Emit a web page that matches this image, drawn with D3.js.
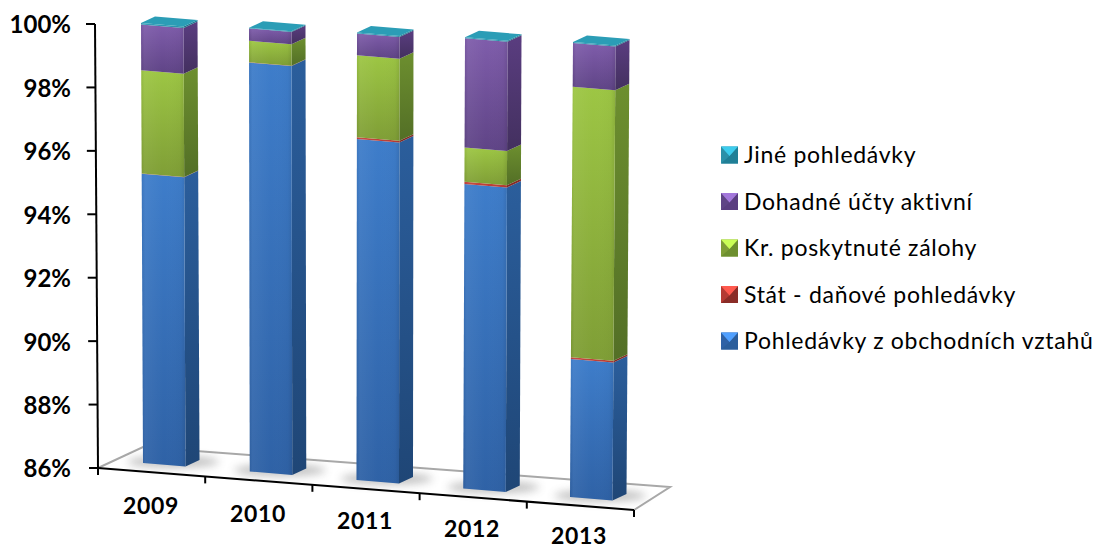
<!DOCTYPE html>
<html lang="cs">
<head>
<meta charset="utf-8">
<title>Struktura pohledávek</title>
<script src="https://cdn.jsdelivr.net/npm/d3@7"></script>
<style>
  html, body { margin: 0; padding: 0; background: #fff; }
  svg { display: block; }
  text { font-family: Lato, "Open Sans", sans-serif; fill: #000; }
</style>
</head>
<body>
<svg id="chart" width="1096" height="549"></svg>
<script>
// Share of each receivable type per year, in percent
const years = ["2009", "2010", "2011", "2012", "2013"];
const tradeReceivables = [95.20, 98.90, 96.67, 95.45, 90.25];
const taxReceivables = [0.01, 0.01, 0.05, 0.07, 0.05];
const shortTermAdvances = [3.29, 0.68, 2.57, 1.06, 8.32];
const accruedAssets = [1.45, 0.39, 0.68, 3.39, 1.35];
const otherReceivables = [0.05, 0.02, 0.03, 0.03, 0.03];

const seriesKeys = ["trade", "tax", "advance", "accrued", "other"];
const seriesNames = [
  "Pohledávky z obchodních vztahů",
  "Stát - daňové pohledávky",
  "Kr. poskytnuté zálohy",
  "Dohadné účty aktivní",
  "Jiné pohledávky"
];
const seriesValues = [tradeReceivables, taxReceivables, shortTermAdvances, accruedAssets, otherReceivables];
const frontColors = [["#3e7dca", "#2f62a6"], ["#c8453d", "#b53a33"], ["#9dc644", "#7f9e36"], ["#7f5dab", "#5f4486"], ["#2f9fb9", "#2a90a8"]];
const sideColors = [["#2b5e9c", "#1f4676"], ["#8a2c27", "#7e2823"], ["#6d8f2f", "#536f26"], ["#5a3d80", "#43305f"], ["#1f7f96", "#1b7086"]];
const topColor = "#2b9db6";
const yTicks = [86, 88, 90, 92, 94, 96, 98, 100];

const svg = d3.select("#chart");
const defs = svg.append("defs");

function verticalGradient(id, [c0, c1]) {
  const g = defs.append("linearGradient").attr("id", id)
    .attr("x1", 0).attr("y1", 0).attr("x2", 0).attr("y2", 1);
  g.append("stop").attr("offset", 0).attr("stop-color", c0);
  g.append("stop").attr("offset", 1).attr("stop-color", c1);
}
seriesKeys.forEach((k, i) => {
  verticalGradient("front-" + k, frontColors[i]);
  verticalGradient("side-" + k, sideColors[i]);
});

// Subtle horizontal sheen across the front faces
const sheen = defs.append("linearGradient").attr("id", "sheen");
[[0, "#000", 0.06], [0.08, "#fff", 0.05], [0.5, "#fff", 0], [0.9, "#000", 0.02], [1, "#000", 0.10]].forEach(([o, c, a]) => {
  sheen.append("stop").attr("offset", o).attr("stop-color", c).attr("stop-opacity", a);
});
defs.append("filter").attr("id", "soft")
  .attr("x", "-30%").attr("y", "-150%").attr("width", "160%").attr("height", "400%")
  .append("feGaussianBlur").attr("stdDeviation", 4);

// Stack the shares; the value axis is truncated to 86–100 %
const table = years.map((y, i) => {
  const row = { year: y };
  seriesKeys.forEach((k, s) => { row[k] = seriesValues[s][i]; });
  return row;
});
const stacked = d3.stack().keys(seriesKeys)(table);

// The oblique view shifts each bar's front face along the floor
const slot = d3.scalePoint().domain(years).range([0, 1]);
const baseLeftX = d3.scaleLinear().domain([0, 1]).range([143, 570]);
const topLeftX = d3.scaleLinear().domain([0, 1]).range([141, 573]);
const baseY = d3.scaleLinear().domain([0, 1]).range([463, 497]);
const topY = d3.scaleLinear().domain([0, 1]).range([23, 42]);
const barWidth = 42.5, depthX = 14, depthY = -6.5, faceSlope = 3.5;

const barY = year => d3.scaleLinear().domain([86, 100]).range([baseY(slot(year)), topY(slot(year))]);
const barX = year => d3.scaleLinear().domain([86, 100]).range([baseLeftX(slot(year)), topLeftX(slot(year))]);
const clampValue = v => Math.max(86, v);

const poly = pts => pts.map(p => p.join(",")).join(" ");
function corners(year, v) {
  const x = barX(year)(v), y = barY(year)(v);
  return {
    fl: [x, y],
    fr: [x + barWidth, y + faceSlope],
    br: [x + barWidth + depthX, y + faceSlope + depthY],
    bl: [x + depthX, y + depthY]
  };
}

// Floor of the plot
const floor = { left: [98, 468], back: [143, 447], far: [670, 487], right: [634, 510] };
svg.append("polyline")
  .attr("points", poly([floor.left, floor.back, floor.far, floor.right]))
  .attr("fill", "none").attr("stroke", "#a8a8a8").attr("stroke-width", 2);

// Soft contact shadows around the bar feet
const shadows = svg.append("g");
years.forEach(y => {
  const c = corners(y, 86);
  shadows.append("ellipse")
    .attr("cx", (c.fl[0] + c.br[0]) / 2 + 2)
    .attr("cy", (c.fl[1] + c.fr[1]) / 2 - 3)
    .attr("rx", 46).attr("ry", 6)
    .attr("fill", "#777").attr("opacity", 0.45)
    .attr("filter", "url(#soft)");
});

// Bars, one stacked column per year
const bars = svg.append("g");
stacked.forEach(layer => {
  const key = layer.key;
  layer.forEach((d, i) => {
    const year = years[i];
    const a = corners(year, clampValue(d[0]));
    const b = corners(year, clampValue(d[1]));
    bars.append("polygon").attr("points", poly([a.fr, a.br, b.br, b.fr]))
      .attr("fill", `url(#side-${key})`);
    bars.append("polygon").attr("points", poly([a.fl, a.fr, b.fr, b.fl]))
      .attr("fill", `url(#front-${key})`);
    bars.append("polygon").attr("points", poly([a.fl, a.fr, b.fr, b.fl]))
      .attr("fill", "url(#sheen)");
  });
});
years.forEach(y => {
  const t = corners(y, 100);
  bars.append("polygon").attr("points", poly([t.fl, t.fr, t.br, t.bl])).attr("fill", topColor);
});

// Value axis, leaning slightly with the view
const yAxisScale = d3.scaleLinear().domain([86, 100]).range([468, 24]);
const yAxisX = d3.scaleLinear().domain([86, 100]).range([98, 95]);
const axes = svg.append("g").attr("stroke", "#000").attr("stroke-width", 2);
axes.append("line")
  .attr("x1", yAxisX(86)).attr("y1", yAxisScale(86))
  .attr("x2", yAxisX(100)).attr("y2", yAxisScale(100));
yTicks.forEach(t => {
  axes.append("line")
    .attr("x1", yAxisX(t) - 9).attr("x2", yAxisX(t))
    .attr("y1", yAxisScale(t)).attr("y2", yAxisScale(t));
});
svg.append("g").selectAll("text").data(yTicks).join("text")
  .attr("x", 71).attr("y", d => yAxisScale(d) + 1)
  .attr("dy", "0.35em").attr("text-anchor", "end")
  .attr("font-size", 24).attr("font-weight", 700)
  .text(d => d + "%");

// Category axis running along the front floor edge
const edge = d3.scaleLinear().domain([0, years.length]);
const edgeX = edge.copy().range([floor.left[0], floor.right[0]]);
const edgeY = edge.copy().range([floor.left[1], floor.right[1]]);
axes.append("line")
  .attr("x1", edgeX(0)).attr("y1", edgeY(0)).attr("x2", edgeX(years.length)).attr("y2", edgeY(years.length));
d3.range(years.length + 1).forEach(i => {
  axes.append("line")
    .attr("x1", edgeX(i)).attr("x2", edgeX(i))
    .attr("y1", edgeY(i)).attr("y2", edgeY(i) + 7);
});
const labelX = d3.scaleLinear().domain([0, 1]).range([151, 579]);
const labelY = d3.scaleLinear().domain([0, 1]).range([506, 536]);
svg.append("g").selectAll("text").data(years).join("text")
  .attr("x", d => labelX(slot(d))).attr("y", d => labelY(slot(d)))
  .attr("dy", "0.35em").attr("text-anchor", "middle")
  .attr("font-size", 23).attr("font-weight", 700).attr("letter-spacing", "0.6px")
  .text(d => d);

// Legend, topmost series first, with bevelled swatches
const legendOrder = d3.range(seriesKeys.length).reverse();
const legendY = d3.scalePoint().domain(legendOrder).range([155, 341]);
const swatch = 17;
const legend = svg.append("g").selectAll("g").data(legendOrder).join("g")
  .attr("transform", d => `translate(721,${legendY(d)})`);
legend.each(function (s) {
  const g = d3.select(this);
  const h = swatch / 2;
  g.append("rect").attr("x", 0).attr("y", -h).attr("width", swatch).attr("height", swatch)
    .attr("fill", frontColors[s][1]);
  g.append("polygon").attr("points", poly([[0, h], [swatch, h], [swatch, -h], [h, 1]]))
    .attr("fill", sideColors[s][0]);
  g.append("polygon").attr("points", poly([[0, -h], [swatch, -h], [h, 1]]))
    .attr("fill", d3.color(frontColors[s][0]).brighter(0.7));
});
legend.append("text")
  .attr("x", 23).attr("y", 0).attr("dy", "0.35em")
  .attr("font-size", 23).attr("letter-spacing", "0.7px")
  .text(d => seriesNames[d]);
</script>
</body>
</html>
